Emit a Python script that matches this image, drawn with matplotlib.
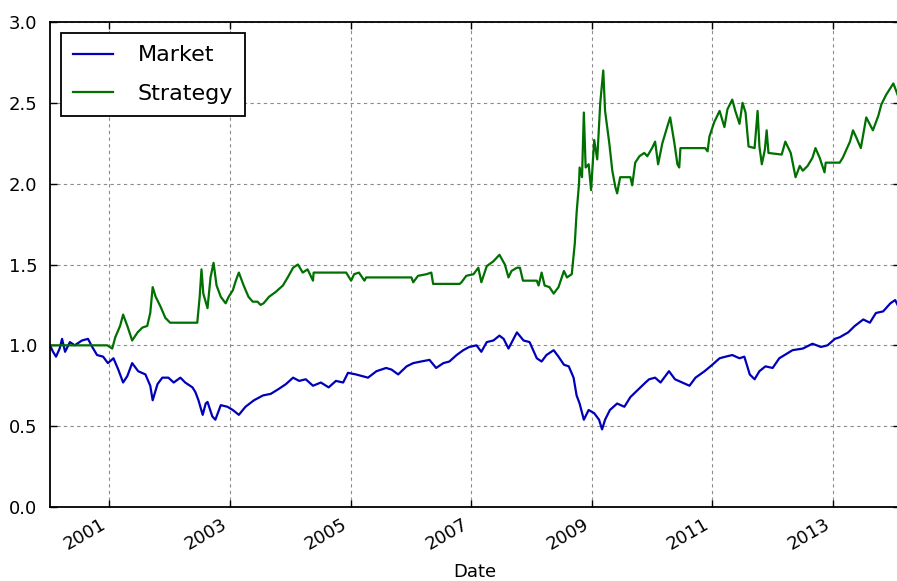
from datetime import datetime, timedelta

import matplotlib
matplotlib.use('Agg')
from matplotlib import pyplot as plt
import matplotlib.dates as mdates

# даты в виде дробного года
market_years = [
    2000.02, 2000.07, 2000.12, 2000.18, 2000.22, 2000.27, 2000.35, 2000.43, 2000.55, 2000.65,
    2000.72, 2000.80, 2000.90, 2000.98, 2001.07, 2001.15, 2001.23, 2001.30, 2001.38, 2001.48,
    2001.60, 2001.68, 2001.72, 2001.80, 2001.88, 2001.98, 2002.07, 2002.18, 2002.26, 2002.38,
    2002.43, 2002.48, 2002.55, 2002.60, 2002.63, 2002.71, 2002.76, 2002.85, 2002.96, 2003.05,
    2003.15, 2003.26, 2003.40, 2003.55, 2003.68, 2003.81, 2003.93, 2004.05, 2004.15, 2004.26,
    2004.38, 2004.51, 2004.64, 2004.76, 2004.88, 2004.96, 2005.09, 2005.29, 2005.43, 2005.59,
    2005.68, 2005.79, 2005.93, 2006.04, 2006.17, 2006.31, 2006.42, 2006.54, 2006.64, 2006.76,
    2006.87, 2006.97, 2007.09, 2007.17, 2007.26, 2007.37, 2007.47, 2007.54, 2007.62, 2007.76,
    2007.87, 2007.97, 2008.09, 2008.17, 2008.25, 2008.37, 2008.45, 2008.54, 2008.62, 2008.70,
    2008.75, 2008.80, 2008.87, 2008.95, 2009.04, 2009.12, 2009.17, 2009.22, 2009.30, 2009.42,
    2009.54, 2009.64, 2009.75, 2009.89, 2009.95, 2010.05, 2010.14, 2010.28, 2010.38, 2010.50,
    2010.62, 2010.72, 2010.87, 2011.00, 2011.12, 2011.22, 2011.33, 2011.45, 2011.53, 2011.62,
    2011.70, 2011.78, 2011.88, 2012.00, 2012.11, 2012.33, 2012.50, 2012.66, 2012.80, 2012.91,
    2013.03, 2013.11, 2013.25, 2013.36, 2013.50, 2013.61, 2013.71, 2013.83, 2013.95, 2014.03,
    2014.11,
]
market_values = [
    1.00, 0.96, 0.93, 0.98, 1.04, 0.96, 1.02, 1.00, 1.03, 1.04,
    0.99, 0.94, 0.93, 0.89, 0.92, 0.85, 0.77, 0.81, 0.89, 0.84,
    0.82, 0.75, 0.66, 0.76, 0.80, 0.80, 0.77, 0.80, 0.77, 0.74,
    0.71, 0.66, 0.57, 0.64, 0.65, 0.56, 0.54, 0.63, 0.62, 0.60,
    0.57, 0.62, 0.66, 0.69, 0.70, 0.73, 0.76, 0.80, 0.78, 0.79,
    0.75, 0.77, 0.74, 0.78, 0.77, 0.83, 0.82, 0.80, 0.84, 0.86,
    0.85, 0.82, 0.87, 0.89, 0.90, 0.91, 0.86, 0.89, 0.90, 0.94,
    0.97, 0.99, 1.00, 0.96, 1.02, 1.03, 1.06, 1.04, 0.98, 1.08,
    1.03, 1.02, 0.92, 0.90, 0.94, 0.97, 0.93, 0.88, 0.87, 0.80,
    0.69, 0.64, 0.54, 0.60, 0.58, 0.54, 0.48, 0.54, 0.60, 0.64,
    0.62, 0.68, 0.72, 0.77, 0.79, 0.80, 0.77, 0.84, 0.79, 0.77,
    0.75, 0.80, 0.84, 0.88, 0.92, 0.93, 0.94, 0.92, 0.93, 0.82,
    0.79, 0.84, 0.87, 0.86, 0.92, 0.97, 0.98, 1.01, 0.99, 1.00,
    1.04, 1.05, 1.08, 1.12, 1.16, 1.14, 1.20, 1.21, 1.26, 1.28,
    1.22,
]

strategy_years = [
    2000.02, 2000.97, 2001.05, 2001.10, 2001.18, 2001.23, 2001.30, 2001.38, 2001.47, 2001.55,
    2001.63, 2001.68, 2001.72, 2001.77, 2001.85, 2001.93, 2002.01, 2002.46, 2002.50, 2002.53,
    2002.56, 2002.63, 2002.68, 2002.73, 2002.78, 2002.85, 2002.93, 2002.98, 2003.05, 2003.10,
    2003.15, 2003.23, 2003.31, 2003.38, 2003.46, 2003.51, 2003.56, 2003.65, 2003.76, 2003.88,
    2003.96, 2004.05, 2004.13, 2004.21, 2004.29, 2004.38, 2004.39, 2004.93, 2005.01, 2005.06,
    2005.14, 2005.23, 2005.26, 2006.01, 2006.04, 2006.12, 2006.26, 2006.34, 2006.37, 2006.81,
    2006.84, 2006.92, 2007.04, 2007.12, 2007.17, 2007.26, 2007.37, 2007.47, 2007.56, 2007.62,
    2007.67, 2007.76, 2007.81, 2007.86, 2008.09, 2008.12, 2008.17, 2008.22, 2008.30, 2008.37,
    2008.45, 2008.54, 2008.59, 2008.67, 2008.72, 2008.75, 2008.79, 2008.80, 2008.84, 2008.87,
    2008.90, 2008.95, 2008.99, 2009.04, 2009.09, 2009.14, 2009.19, 2009.22, 2009.29, 2009.34,
    2009.39, 2009.42, 2009.47, 2009.64, 2009.67, 2009.72, 2009.79, 2009.87, 2009.92, 2010.00,
    2010.05, 2010.10, 2010.17, 2010.25, 2010.30, 2010.37, 2010.42, 2010.45, 2010.47, 2010.88,
    2010.92, 2010.95, 2011.03, 2011.12, 2011.20, 2011.25, 2011.33, 2011.38, 2011.45, 2011.50,
    2011.55, 2011.60, 2011.70, 2011.75, 2011.78, 2011.82, 2011.87, 2011.90, 2011.93, 2012.15,
    2012.21, 2012.30, 2012.38, 2012.45, 2012.50, 2012.58, 2012.66, 2012.71, 2012.78, 2012.86,
    2012.88, 2013.11, 2013.16, 2013.28, 2013.33, 2013.38, 2013.46, 2013.55, 2013.66, 2013.75,
    2013.80, 2013.88, 2014.00, 2014.08, 2014.11,
]
strategy_values = [
    1.00, 1.00, 0.98, 1.05, 1.12, 1.19, 1.12, 1.03, 1.08, 1.11,
    1.12, 1.20, 1.36, 1.30, 1.24, 1.17, 1.14, 1.14, 1.30, 1.47,
    1.32, 1.23, 1.42, 1.51, 1.37, 1.30, 1.26, 1.30, 1.34, 1.40,
    1.45, 1.37, 1.30, 1.27, 1.27, 1.25, 1.26, 1.30, 1.33, 1.37,
    1.42, 1.48, 1.50, 1.45, 1.47, 1.40, 1.45, 1.45, 1.40, 1.44,
    1.45, 1.40, 1.42, 1.42, 1.39, 1.43, 1.44, 1.45, 1.38, 1.38,
    1.39, 1.43, 1.44, 1.48, 1.39, 1.49, 1.52, 1.56, 1.50, 1.42,
    1.46, 1.48, 1.48, 1.40, 1.40, 1.37, 1.45, 1.37, 1.36, 1.32,
    1.36, 1.46, 1.42, 1.44, 1.63, 1.82, 2.00, 2.10, 2.04, 2.44,
    2.10, 2.12, 1.96, 2.27, 2.15, 2.50, 2.70, 2.45, 2.25, 2.08,
    1.98, 1.94, 2.04, 2.04, 1.99, 2.13, 2.17, 2.19, 2.17, 2.22,
    2.26, 2.12, 2.25, 2.35, 2.41, 2.25, 2.12, 2.10, 2.22, 2.22,
    2.20, 2.29, 2.38, 2.45, 2.35, 2.46, 2.52, 2.45, 2.37, 2.50,
    2.44, 2.23, 2.22, 2.45, 2.23, 2.12, 2.21, 2.33, 2.19, 2.18,
    2.26, 2.19, 2.04, 2.11, 2.08, 2.11, 2.16, 2.22, 2.16, 2.07,
    2.13, 2.13, 2.16, 2.26, 2.33, 2.29, 2.22, 2.41, 2.33, 2.42,
    2.49, 2.55, 2.62, 2.54, 2.48,
]

tick_years = [2001, 2003, 2005, 2007, 2009, 2011, 2013]


def to_date(y):
    year = int(y)
    return datetime(year, 1, 1) + timedelta(days=(y - year) * 365.25)


market_dates = [to_date(y) for y in market_years]
strategy_dates = [to_date(y) for y in strategy_years]

plt.rcParams['font.family'] = 'DejaVu Sans'

fig = plt.figure(figsize=(8.97, 5.81), dpi=100)
ax = fig.add_axes([50 / 897, 1 - 507 / 581, 850 / 897, 485 / 581])

ax.plot(market_dates, market_values, color='#0000bb', lw=1.6, label='Market')
ax.plot(strategy_dates, strategy_values, color='#007000', lw=1.6, label='Strategy')

ax.set_xlim(market_dates[0], market_dates[-1])
ax.set_ylim(0, 3.0)
ax.set_yticks([0.0, 0.5, 1.0, 1.5, 2.0, 2.5, 3.0])
ax.set_xticks([datetime(y, 1, 1) for y in tick_years])
ax.xaxis.set_major_formatter(mdates.DateFormatter('%Y'))
for lbl in ax.get_xticklabels():
    lbl.set_rotation(30)
    lbl.set_ha('right')

ax.grid(True, color='0.55', linestyle=(0, (3, 3)), lw=0.8)
ax.tick_params(direction='in', top=True, right=True, length=5, width=1, labelsize=13)
ax.tick_params(axis='y', pad=9)
ax.tick_params(axis='x', pad=6)
for s in ax.spines.values():
    s.set_linewidth(1.3)
ax.set_xlabel('Date', fontsize=13, labelpad=7)

leg = ax.legend(loc='upper left', fontsize=16, fancybox=False, framealpha=1,
                edgecolor='black', borderaxespad=0.5, handlelength=1.8,
                handletextpad=1.1, labelspacing=0.85, borderpad=0.55)
leg.get_frame().set_linewidth(1.3)

fig.savefig('out.png', dpi=100)
